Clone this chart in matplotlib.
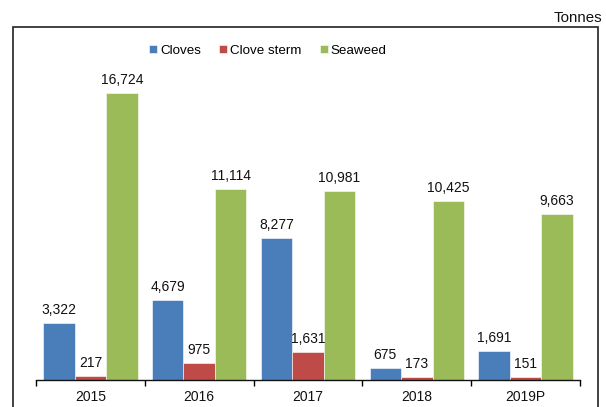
import numpy as np
import matplotlib.pyplot as plt
from matplotlib.patches import Rectangle

plt.rcParams['font.family'] = ['Liberation Sans', 'DejaVu Sans']

years = ["2015", "2016", "2017", "2018", "2019P"]
cloves = [3322, 4679, 8277, 675, 1691]
clove_sterm = [217, 975, 1631, 173, 151]
seaweed = [16724, 11114, 10981, 10425, 9663]

series = [
    ("Cloves", cloves, "#4a7ebb"),
    ("Clove sterm", clove_sterm, "#be4b48"),
    ("Seaweed", seaweed, "#9bbb59"),
]

W, H = 606, 407
fig = plt.figure(figsize=(W / 100, H / 100), dpi=100)

# outer frame, open at the bottom
frame = Rectangle((12.5 / W, -0.05), (597.5 - 12.5) / W, 1.05 - 26.5 / H,
                  transform=fig.transFigure, fill=False,
                  edgecolor="#222222", linewidth=1.2)
fig.patches.append(frame)
fig.text(602 / W, 1 - 17.5 / H, "Tonnes", ha="right", va="center",
         fontsize=10.8, color="#111111")

ax = fig.add_axes([36 / W, 27 / H, (580 - 36) / W, 343.4 / H])
ax.set_xlim(0, len(years))
ax.set_ylim(0, 20000)

x = np.arange(len(years)) + 0.5
bw = 0.289
for i, (name, vals, col) in enumerate(series):
    pos = x + (i - 1) * bw
    bars = ax.bar(pos, vals, width=bw, color=col, label=name,
                  edgecolor="white", linewidth=0.4)
    for xi, v in zip(pos, vals):
        ax.text(xi, v + 350, f"{v:,}", ha="center", va="bottom",
                fontsize=10, color="#111111")

for s in ["top", "right", "left"]:
    ax.spines[s].set_visible(False)
ax.spines["bottom"].set_linewidth(1.0)
ax.spines["bottom"].set_color("#111111")
ax.set_yticks([])
ax.set_xticks(np.arange(len(years) + 1))
ax.set_xticklabels([])
ax.set_xticks(x, minor=True)
ax.set_xticklabels(years, minor=True, fontsize=10, color="#111111")
ax.tick_params(axis="x", which="major", length=4, width=1, direction="out")
ax.tick_params(axis="x", which="minor", length=0, pad=7)

fig.legend(loc="center", bbox_to_anchor=(268 / W, 1 - 51 / H), ncol=3,
           frameon=False, fontsize=9.6, handlelength=0.55, handleheight=0.55,
           handletextpad=0.25, columnspacing=1.4, borderpad=0)

fig.savefig("out.png", dpi=100)
